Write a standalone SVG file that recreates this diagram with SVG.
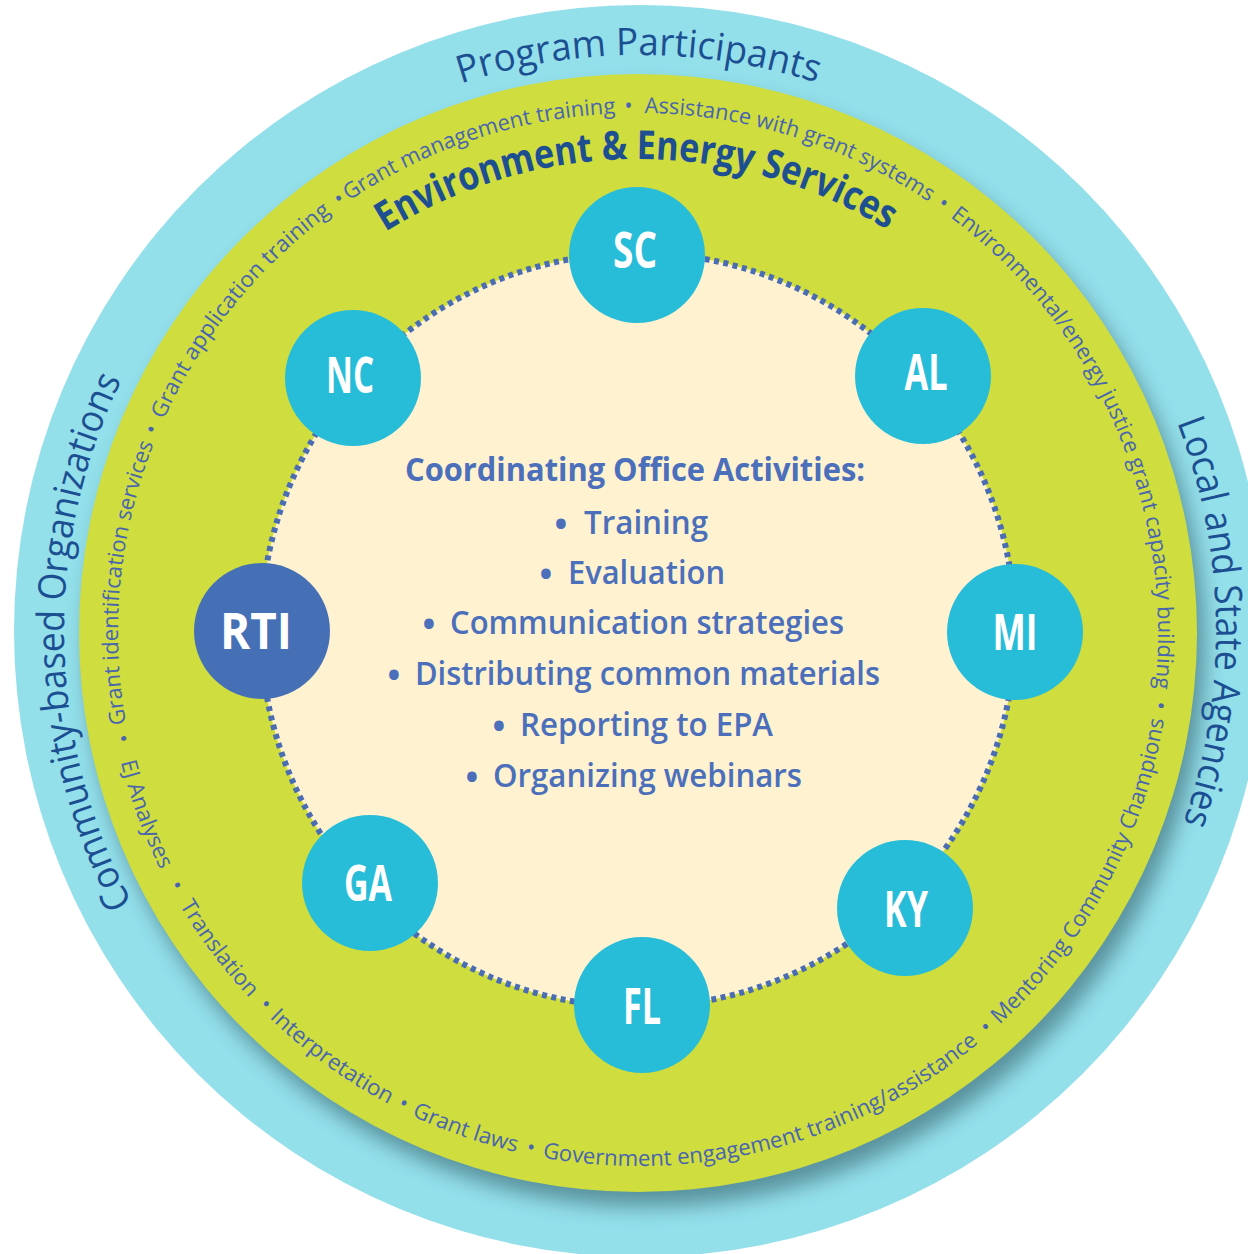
<svg xmlns="http://www.w3.org/2000/svg" xmlns:xlink="http://www.w3.org/1999/xlink" width="1248" height="1254" viewBox="0 0 1248 1254">
<style>
  .ring-label { font-family: "Open Sans", "Noto Sans", sans-serif; font-size: 38px; font-weight: 500; fill: #1c4f92; }
  .band-title { font-family: "Open Sans", "Noto Sans", sans-serif; font-size: 40px; font-weight: 700; fill: #1d4f91; }
  .svc { font-family: "Open Sans", "Noto Sans", sans-serif; font-size: 22px; font-weight: 500; fill: #4865ae; }
  .node-circle { fill: #27bdd8; }
  .node-rti { fill: #4670b5; }
  .node-label { font-family: "Open Sans", "Noto Sans", sans-serif; font-size: 50px; font-weight: 700; fill: #ffffff; text-anchor: middle; }
  .center-title { font-family: "Open Sans", "Noto Sans", sans-serif; font-size: 32px; font-weight: 700; fill: #4b6fba; }
  .center-item { font-family: "Open Sans", "Noto Sans", sans-serif; font-size: 33px; font-weight: 600; fill: #4b6fba; }
  .bullet { font-family: "Open Sans", "Noto Sans", sans-serif; font-size: 34px; font-weight: 700; fill: #4b6fba; text-anchor: middle; }
</style>
<defs>
  <filter id="shadow" x="-15%" y="-15%" width="130%" height="130%">
    <feGaussianBlur stdDeviation="10"/>
  </filter>
  <path id="outerArc" d="M 640 1207 A 576 576 0 1 1 640 55 A 576 576 0 1 1 640 1207"/>
  <path id="titleArc" d="M 638 1107 A 474 474 0 1 1 638 159 A 474 474 0 1 1 638 1107"/>
  <path id="upperArc" d="M 638 1153 A 520 520 0 1 1 638 113 A 520 520 0 1 1 638 1153"/>
  <path id="lowerArc" d="M 638 100 A 533 533 0 1 0 638 1166 A 533 533 0 1 0 638 100"/>
</defs>

<g id="rings">
  <circle cx="640" cy="631" r="626" fill="#93dfea"/>
  <circle cx="646" cy="648" r="559" fill="#2a5560" opacity="0.55" filter="url(#shadow)"/>
  <circle cx="638" cy="633" r="559" fill="#cfdd3f"/>
</g>

<g id="ring-labels">
  <text class="ring-label"><textPath xlink:href="#outerArc" href="#outerArc" startOffset="1808" text-anchor="middle" textLength="362" lengthAdjust="spacingAndGlyphs">Program Participants</textPath></text>
  <text class="ring-label"><textPath xlink:href="#outerArc" href="#outerArc" startOffset="893" text-anchor="middle" textLength="543" lengthAdjust="spacingAndGlyphs">Community-based Organizations</textPath></text>
  <text class="ring-label"><textPath xlink:href="#outerArc" href="#outerArc" startOffset="2705" text-anchor="middle" textLength="409" lengthAdjust="spacingAndGlyphs">Local and State Agencies</textPath></text>
  <text class="band-title"><textPath xlink:href="#titleArc" href="#titleArc" startOffset="1487" text-anchor="middle" textLength="529" lengthAdjust="spacingAndGlyphs">Environment &amp; Energy Services</textPath></text>
</g>

<g id="services">
  <text class="svc"><textPath xlink:href="#upperArc" href="#upperArc" startOffset="868" text-anchor="middle" textLength="285" lengthAdjust="spacingAndGlyphs">Grant identification services</textPath></text>
  <text class="svc"><textPath xlink:href="#upperArc" href="#upperArc" startOffset="1023" text-anchor="middle">•</textPath></text>
  <text class="svc"><textPath xlink:href="#upperArc" href="#upperArc" startOffset="1171" text-anchor="middle" textLength="269" lengthAdjust="spacingAndGlyphs">Grant application training</textPath></text>
  <text class="svc"><textPath xlink:href="#upperArc" href="#upperArc" startOffset="1320" text-anchor="middle">•</textPath></text>
  <text class="svc"><textPath xlink:href="#upperArc" href="#upperArc" startOffset="1469" text-anchor="middle" textLength="284" lengthAdjust="spacingAndGlyphs">Grant management training</textPath></text>
  <text class="svc"><textPath xlink:href="#upperArc" href="#upperArc" startOffset="1624" text-anchor="middle">•</textPath></text>
  <text class="svc"><textPath xlink:href="#upperArc" href="#upperArc" startOffset="1791" text-anchor="middle" textLength="302" lengthAdjust="spacingAndGlyphs">Assistance with grant systems</textPath></text>
  <text class="svc"><textPath xlink:href="#upperArc" href="#upperArc" startOffset="1955" text-anchor="middle">•</textPath></text>
  <text class="svc"><textPath xlink:href="#upperArc" href="#upperArc" startOffset="2237" text-anchor="middle" textLength="538" lengthAdjust="spacingAndGlyphs">Environmental/energy justice grant capacity building</textPath></text>
  <text class="svc"><textPath xlink:href="#upperArc" href="#upperArc" startOffset="2522" text-anchor="middle">•</textPath></text>

  <text class="svc"><textPath xlink:href="#lowerArc" href="#lowerArc" startOffset="945" text-anchor="middle">•</textPath></text>
  <text class="svc"><textPath xlink:href="#lowerArc" href="#lowerArc" startOffset="1025" text-anchor="middle" textLength="115" lengthAdjust="spacingAndGlyphs">EJ Analyses</textPath></text>
  <text class="svc"><textPath xlink:href="#lowerArc" href="#lowerArc" startOffset="1104" text-anchor="middle">•</textPath></text>
  <text class="svc"><textPath xlink:href="#lowerArc" href="#lowerArc" startOffset="1181" text-anchor="middle" textLength="116" lengthAdjust="spacingAndGlyphs">Translation</textPath></text>
  <text class="svc"><textPath xlink:href="#lowerArc" href="#lowerArc" startOffset="1255" text-anchor="middle">•</textPath></text>
  <text class="svc"><textPath xlink:href="#lowerArc" href="#lowerArc" startOffset="1341" text-anchor="middle" textLength="148" lengthAdjust="spacingAndGlyphs">Interpretation</textPath></text>
  <text class="svc"><textPath xlink:href="#lowerArc" href="#lowerArc" startOffset="1428" text-anchor="middle">•</textPath></text>
  <text class="svc"><textPath xlink:href="#lowerArc" href="#lowerArc" startOffset="1496" text-anchor="middle" textLength="111" lengthAdjust="spacingAndGlyphs">Grant laws</textPath></text>
  <text class="svc"><textPath xlink:href="#lowerArc" href="#lowerArc" startOffset="1565" text-anchor="middle">•</textPath></text>
  <text class="svc"><textPath xlink:href="#lowerArc" href="#lowerArc" startOffset="1811" text-anchor="middle" textLength="466" lengthAdjust="spacingAndGlyphs">Government engagement training/assistance</textPath></text>
  <text class="svc"><textPath xlink:href="#lowerArc" href="#lowerArc" startOffset="2060" text-anchor="middle">•</textPath></text>
  <text class="svc"><textPath xlink:href="#lowerArc" href="#lowerArc" startOffset="2248" text-anchor="middle" textLength="353" lengthAdjust="spacingAndGlyphs">Mentoring Community Champions</textPath></text>
</g>

<g id="coordinating-office">
  <circle cx="638" cy="630" r="377" fill="#fef2d0"/>
  <circle cx="638" cy="630" r="377" fill="none" stroke="#4a6cb3" stroke-width="6" stroke-dasharray="5 4.5"/>
  <text class="center-title" x="405" y="481" textLength="460" lengthAdjust="spacingAndGlyphs">Coordinating Office Activities:</text>
  <text class="bullet" x="561" y="536">•</text>
  <text class="center-item" x="584" y="534" textLength="124" lengthAdjust="spacingAndGlyphs">Training</text>
  <text class="bullet" x="546" y="586">•</text>
  <text class="center-item" x="568" y="584" textLength="157" lengthAdjust="spacingAndGlyphs">Evaluation</text>
  <text class="bullet" x="429" y="636">•</text>
  <text class="center-item" x="450" y="634" textLength="394" lengthAdjust="spacingAndGlyphs">Communication strategies</text>
  <text class="bullet" x="394" y="687">•</text>
  <text class="center-item" x="415" y="685" textLength="465" lengthAdjust="spacingAndGlyphs">Distributing common materials</text>
  <text class="bullet" x="499" y="738">•</text>
  <text class="center-item" x="520" y="736" textLength="253" lengthAdjust="spacingAndGlyphs">Reporting to EPA</text>
  <text class="bullet" x="472" y="789">•</text>
  <text class="center-item" x="493" y="787" textLength="309" lengthAdjust="spacingAndGlyphs">Organizing webinars</text>
</g>

<g id="node-SC"><circle class="node-circle" cx="637" cy="255" r="68"/><text class="node-label" x="635" y="268" textLength="44" lengthAdjust="spacingAndGlyphs">SC</text></g>
<g id="node-NC"><circle class="node-circle" cx="353" cy="378" r="68"/><text class="node-label" x="350" y="393" textLength="48" lengthAdjust="spacingAndGlyphs">NC</text></g>
<g id="node-AL"><circle class="node-circle" cx="923" cy="376" r="68"/><text class="node-label" x="926" y="390" textLength="43" lengthAdjust="spacingAndGlyphs">AL</text></g>
<g id="node-RTI"><circle class="node-rti" cx="262" cy="631" r="68"/><text class="node-label" x="256" y="649" textLength="72" lengthAdjust="spacingAndGlyphs">RTI</text></g>
<g id="node-MI"><circle class="node-circle" cx="1015" cy="632" r="68"/><text class="node-label" x="1015" y="650" textLength="45" lengthAdjust="spacingAndGlyphs">MI</text></g>
<g id="node-GA"><circle class="node-circle" cx="370" cy="883" r="68"/><text class="node-label" x="368" y="901" textLength="48" lengthAdjust="spacingAndGlyphs">GA</text></g>
<g id="node-KY"><circle class="node-circle" cx="905" cy="908" r="68"/><text class="node-label" x="906" y="927" textLength="44" lengthAdjust="spacingAndGlyphs">KY</text></g>
<g id="node-FL"><circle class="node-circle" cx="642" cy="1005" r="68"/><text class="node-label" x="642" y="1024" textLength="38" lengthAdjust="spacingAndGlyphs">FL</text></g>

<g id="connectors"></g>
</svg>
